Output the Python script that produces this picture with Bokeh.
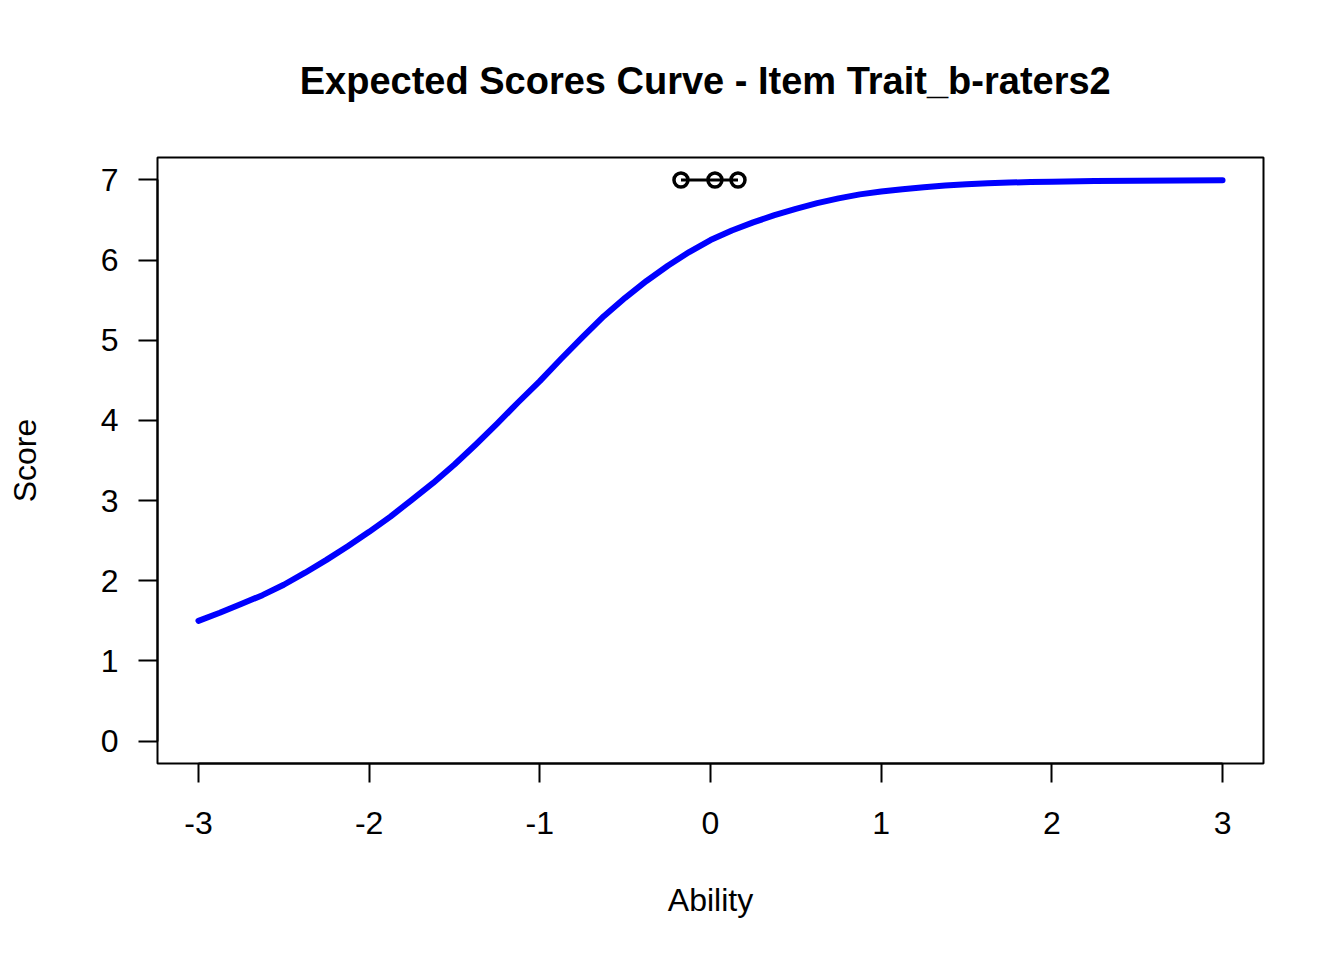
from bokeh.plotting import figure
from bokeh.models import Range1d, FixedTicker
from bokeh.embed import file_html
from bokeh.resources import INLINE

# Expected score curve
ability = [-3.0, -2.875, -2.75, -2.625, -2.5, -2.375, -2.25, -2.125, -2.0, -1.875,
           -1.75, -1.625, -1.5, -1.375, -1.25, -1.125, -1.0, -0.875, -0.75, -0.625,
           -0.5, -0.375, -0.25, -0.125, 0.0, 0.125, 0.25, 0.375, 0.5, 0.625,
           0.75, 0.875, 1.0, 1.125, 1.25, 1.375, 1.5, 1.625, 1.75, 1.875,
           2.0, 2.25, 2.5, 2.75, 3.0]
score = [1.50, 1.60, 1.71, 1.82, 1.95, 2.10, 2.26, 2.43, 2.61, 2.80,
         3.01, 3.22, 3.45, 3.70, 3.96, 4.23, 4.49, 4.77, 5.04, 5.30,
         5.53, 5.74, 5.93, 6.10, 6.25, 6.37, 6.47, 6.56, 6.64, 6.71,
         6.77, 6.82, 6.855, 6.885, 6.91, 6.93, 6.945, 6.958, 6.967, 6.974,
         6.979, 6.986, 6.991, 6.994, 6.996]

# Rater thresholds marked at the top
marker_x = [-0.173, 0.026, 0.161]
marker_y = [7, 7, 7]

x_ticks = [-3, -2, -1, 0, 1, 2, 3]
y_ticks = [0, 1, 2, 3, 4, 5, 6, 7]

FONT = "Liberation Sans"

p = figure(width=1328, height=944, output_backend="svg", toolbar_location=None,
           x_range=Range1d(-3.24, 3.24), y_range=Range1d(-0.28, 7.28),
           min_border_left=157, min_border_right=65, min_border_top=157, min_border_bottom=181)

p.background_fill_color = "white"
p.border_fill_color = "white"
p.outline_line_color = "black"
p.outline_line_width = 2
p.grid.visible = False

for ax, ticks, bnds in ((p.xaxis[0], x_ticks, (-3, 3)), (p.yaxis[0], y_ticks, (0, 7))):
    ax.ticker = FixedTicker(ticks=ticks)
    ax.major_label_overrides = {t: str(t) for t in ticks}
    ax.bounds = bnds
    ax.minor_tick_line_color = None
    ax.major_tick_in = 0
    ax.major_tick_out = 19
    ax.major_tick_line_width = 2
    ax.axis_line_width = 2
    ax.major_label_text_font = FONT
    ax.major_label_text_font_size = "32px"
    ax.major_label_text_color = "black"
    ax.axis_label_text_font = FONT
    ax.axis_label_text_font_size = "32px"
    ax.axis_label_text_font_style = "normal"
    ax.axis_label_text_color = "black"

p.xaxis.axis_label = "Ability"
p.yaxis.axis_label = "Score"
p.xaxis.major_label_standoff = 29
p.yaxis.major_label_standoff = 20
p.xaxis.axis_label_standoff = 45
p.yaxis.axis_label_standoff = 55

p.title.text = "Expected Scores Curve - Item  Trait_b-raters2"
p.title.align = "center"
p.title.text_font = FONT
p.title.text_font_size = "38px"
p.title.text_font_style = "bold"
p.title.text_color = "black"
p.title.standoff = 111

p.line(ability, score, line_color="#0000FF", line_width=6, line_cap="round", line_join="round")

p.line(marker_x, marker_y, line_color="black", line_width=3)
p.scatter(marker_x, marker_y, marker="circle", size=14, fill_color=None,
          line_color="black", line_width=3.5)

open("out.html", "w").write(file_html(p, INLINE))
